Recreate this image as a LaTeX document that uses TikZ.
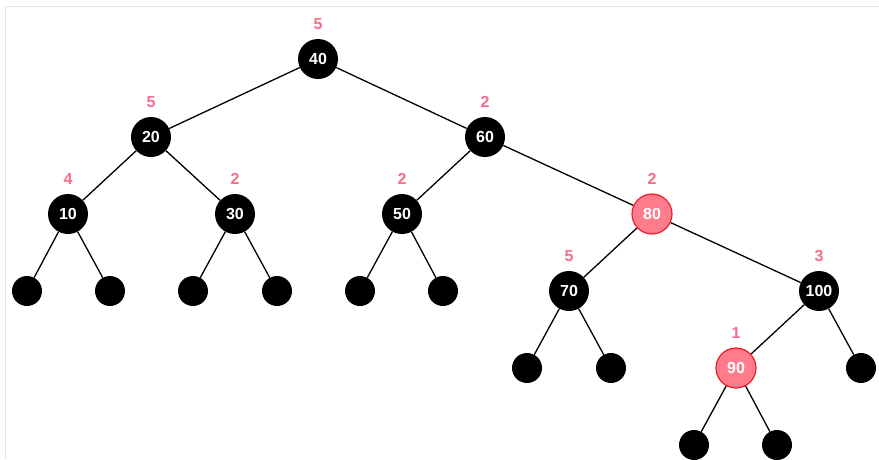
\documentclass[tikz,border=0pt]{standalone}
\usepackage{fontspec}
\setmainfont{Liberation Sans}
\definecolor{rankpink}{RGB}{248,108,140}
\definecolor{redfill}{RGB}{255,124,140}
\definecolor{redline}{RGB}{238,30,44}
\definecolor{frame}{RGB}{226,226,226}

\begin{document}
\begin{tikzpicture}[x=1pt,y=-1pt,
    blk/.style={circle,fill=black,text=white,minimum size=40pt,inner sep=0pt,font=\bfseries\fontsize{16}{16}\selectfont},
    red/.style={blk,fill=redfill,draw=redline,line width=1.2pt},
    nil/.style={circle,fill=black,minimum size=30pt,inner sep=0pt},
    rank/.style={text=rankpink,inner sep=0pt,font=\bfseries\fontsize{16}{16}\selectfont},
    edge/.style={line width=1.3pt}]
    \useasboundingbox (0,0) rectangle (879,459);
    \draw[frame,line width=1pt] (5,459) -- (5,6) -- (879,6);
    % inner nodes with their rank above
    \node[blk,label={[rank,label distance=9pt]90:5}] (n40) at (318,59) {40};
    \node[blk,label={[rank,label distance=9pt]90:5}] (n20) at (151,137) {20};
    \node[blk,label={[rank,label distance=9pt]90:2}] (n60) at (485,137) {60};
    \node[blk,label={[rank,label distance=9pt]90:4}] (n10) at (68,214) {10};
    \node[blk,label={[rank,label distance=9pt]90:2}] (n30) at (235,214) {30};
    \node[blk,label={[rank,label distance=9pt]90:2}] (n50) at (402,214) {50};
    \node[red,label={[rank,label distance=9pt]90:2}] (n80) at (652,214) {80};
    \node[blk,label={[rank,label distance=9pt]90:5}] (n70) at (569,291) {70};
    \node[blk,label={[rank,label distance=9pt]90:3}] (n100) at (819,291) {100};
    \node[red,label={[rank,label distance=9pt]90:1}] (n90) at (736,368) {90};
    % nil leaves
    \node[nil] (l1) at (27,291) {};
    \node[nil] (l2) at (110,291) {};
    \node[nil] (l3) at (193,291) {};
    \node[nil] (l4) at (277,291) {};
    \node[nil] (l5) at (360,291) {};
    \node[nil] (l6) at (443,291) {};
    \node[nil] (l7) at (527,368) {};
    \node[nil] (l8) at (611,368) {};
    \node[nil] (l9) at (861,368) {};
    \node[nil] (l10) at (694,445) {};
    \node[nil] (l11) at (777,445) {};
    % edges
    \foreach \a/\b in {n40/n20,n40/n60,n20/n10,n20/n30,n60/n50,n60/n80,
        n10/l1,n10/l2,n30/l3,n30/l4,n50/l5,n50/l6,n80/n70,n80/n100,
        n70/l7,n70/l8,n100/n90,n100/l9,n90/l10,n90/l11}
        \draw[edge] (\a) -- (\b);
\end{tikzpicture}
\end{document}
